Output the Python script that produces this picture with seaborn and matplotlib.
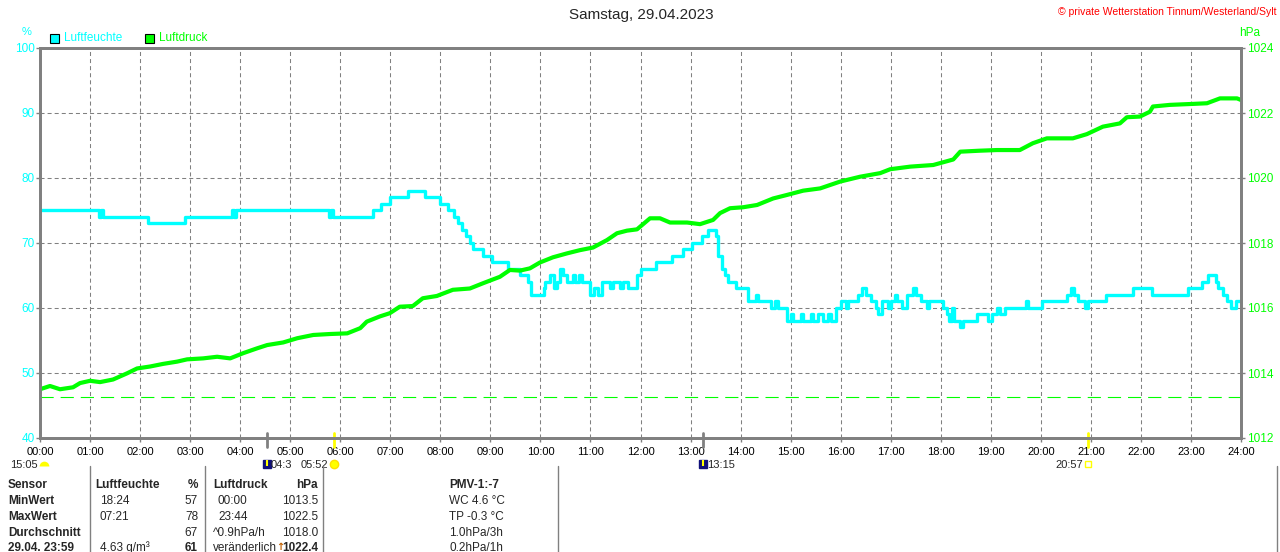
"""Tagesverlauf Luftfeuchte / Luftdruck, Samstag 29.04.2023."""

import matplotlib

matplotlib.use("Agg")
import matplotlib.pyplot as plt
import pandas as pd
import seaborn as sns
from matplotlib.patches import Rectangle

W, H = 1280, 552
CYAN = "#00FFFF"
GREEN = "#00FF00"
GREY = "#808080"
YELLOW = "#FFFF00"
NAVY = "#10107A"

# Luftfeuchte (%), Stufenverlauf: Zeitpunkt in Stunden, Wert ab diesem Zeitpunkt
hum_time = [
    0.00, 1.18, 1.22, 1.26, 2.16, 2.90, 3.84, 3.88, 3.92, 5.78, 5.82, 5.86,
    6.65, 6.81, 6.99, 7.35, 7.70, 8.00, 8.15, 8.28, 8.36, 8.44, 8.52, 8.60,
    8.66, 8.85, 9.03, 9.35, 9.59, 9.75, 9.82, 10.07, 10.10, 10.20, 10.27,
    10.33, 10.40, 10.46, 10.53, 10.65, 10.70, 10.78, 10.83, 11.00, 11.08,
    11.15, 11.23, 11.40, 11.45, 11.60, 11.65, 11.75, 11.93, 12.00, 12.30,
    12.63, 12.85, 13.03, 13.23, 13.35, 13.50, 13.55, 13.62, 13.68, 13.75,
    13.90, 14.15, 14.30, 14.35, 14.60, 14.68, 14.75, 14.93, 15.00, 15.05,
    15.20, 15.25, 15.40, 15.45, 15.55, 15.65, 15.75, 15.80, 15.90, 16.00,
    16.10, 16.15, 16.35, 16.43, 16.50, 16.60, 16.70, 16.75, 16.82, 16.95,
    17.00, 17.08, 17.12, 17.22, 17.33, 17.45, 17.50, 17.60, 17.72, 17.76,
    18.05, 18.12, 18.17, 18.23, 18.27, 18.38, 18.45, 18.72, 18.95, 19.03,
    19.13, 19.18, 19.28, 19.70, 19.74, 20.03, 20.52, 20.60, 20.67, 20.75,
    20.88, 20.95, 21.30, 21.85, 22.22, 22.95, 23.23, 23.35, 23.50, 23.55,
    23.65, 23.72, 23.80, 23.90, 24.00,
]
hum_value = [
    75, 74, 75, 74, 73, 74, 75, 74, 75, 74, 75, 74,
    75, 76, 77, 78, 77, 76, 75, 74, 73, 72, 71, 70,
    69, 68, 67, 66, 65, 64, 62, 63, 64, 65, 63,
    64, 66, 65, 64, 65, 64, 65, 64, 62, 63,
    62, 64, 63, 64, 63, 64, 63, 65, 66, 67,
    68, 69, 70, 71, 72, 71, 68, 66, 65, 64,
    63, 61, 62, 61, 60, 61, 60, 58, 59, 58,
    59, 58, 59, 58, 59, 58, 59, 58, 60, 61,
    60, 61, 62, 63, 62, 61, 60, 59, 61, 60,
    61, 62, 61, 60, 62, 63, 62, 61, 60, 61,
    60, 59, 58, 60, 58, 57, 58, 59, 58, 59,
    60, 59, 60, 61, 60, 61, 62, 63, 62, 61,
    60, 61, 62, 63, 62, 63, 64, 65, 64, 63,
    62, 61, 60, 61, 61,
]

# Luftdruck (hPa)
press_time = [
    0.00, 0.20, 0.40, 0.66, 0.80, 1.00, 1.20, 1.46, 1.74, 1.94, 2.20, 2.46,
    2.74, 2.94, 3.26, 3.54, 3.80, 4.06, 4.34, 4.54, 4.86, 5.14, 5.46, 5.80,
    6.14, 6.40, 6.53, 6.79, 6.99, 7.19, 7.45, 7.65, 7.93, 8.25, 8.59, 8.85,
    9.19, 9.39, 9.59, 9.79, 9.99, 10.25, 10.53, 10.79, 11.05, 11.33, 11.53,
    11.73, 11.93, 12.19, 12.39, 12.59, 12.93, 13.19, 13.45, 13.59, 13.79,
    14.05, 14.33, 14.65, 14.93, 15.25, 15.59, 15.99, 16.39, 16.79, 16.99,
    17.39, 17.85, 18.25, 18.39, 18.78, 19.12, 19.58, 19.84, 20.12, 20.64,
    20.92, 21.24, 21.58, 21.72, 21.98, 22.18, 22.24, 22.58, 23.04, 23.32,
    23.58, 23.92, 24.00,
]
press_value = [
    1013.50, 1013.60, 1013.50, 1013.56, 1013.69, 1013.76, 1013.72, 1013.80,
    1013.99, 1014.14, 1014.20, 1014.28, 1014.35, 1014.42, 1014.45, 1014.50,
    1014.45, 1014.61, 1014.76, 1014.86, 1014.94, 1015.07, 1015.17, 1015.20,
    1015.22, 1015.38, 1015.58, 1015.74, 1015.84, 1016.04, 1016.06, 1016.30,
    1016.37, 1016.56, 1016.60, 1016.76, 1016.96, 1017.17, 1017.15, 1017.22,
    1017.40, 1017.56, 1017.68, 1017.78, 1017.86, 1018.09, 1018.30, 1018.38,
    1018.42, 1018.76, 1018.76, 1018.63, 1018.63, 1018.58, 1018.71, 1018.92,
    1019.07, 1019.10, 1019.17, 1019.37, 1019.48, 1019.61, 1019.68, 1019.89,
    1020.04, 1020.15, 1020.27, 1020.35, 1020.40, 1020.57, 1020.81, 1020.84,
    1020.86, 1020.86, 1021.07, 1021.22, 1021.22, 1021.35, 1021.58, 1021.68,
    1021.87, 1021.89, 1022.04, 1022.20, 1022.25, 1022.28, 1022.30, 1022.45,
    1022.45, 1022.40,
]
ref_pressure = 1013.25

hour_labels = [f"{h:02d}:00" for h in range(25)]
hum_ticks = [40, 50, 60, 70, 80, 90, 100]
press_ticks = [1012, 1014, 1016, 1018, 1020, 1022, 1024]

# Sonne / Mond: Zeitpunkt in Stunden, Beschriftung
moon_times = [4 + 32 / 60, 13 + 15 / 60]
moon_labels = ["04:3", "13:15"]
sun_times = [5 + 52 / 60, 20 + 57 / 60]
sun_labels = ["05:52", "20:57"]

# Tabelle unten
table_rows = ["Sensor", "MinWert", "MaxWert", "Durchschnitt", "29.04. 23:59"]
hum_col_time = ["Luftfeuchte", "18:24", "07:21", "", "4.63 g/m³"]
hum_col_val = ["%", "57", "78", "67", "61"]
press_col_time = ["Luftdruck", "00:00", "23:44", "^0.9hPa/h", "veränderlich"]
press_col_val = ["hPa", "1013.5", "1022.5", "1018.0", "1022.4"]
extra_col = ["PMV-1:-7", "WC 4.6 °C", "TP -0.3 °C", "1.0hPa/3h", "0.2hPa/1h"]


def fx(x):
    return x / W


def fy(y):
    return 1 - y / H


sns.set_theme(style="white")
plt.rcParams["font.family"] = ["Liberation Sans", "DejaVu Sans"]
plt.rcParams["lines.scale_dashes"] = False

fig = plt.figure(figsize=(W / 100, H / 100), dpi=100)
ax = fig.add_axes([fx(40), fy(438), 1201 / W, 390 / H])

hum = pd.DataFrame({"hour": hum_time, "value": hum_value})
press = pd.DataFrame({"hour": press_time, "value": press_value})

sns.lineplot(data=hum, x="hour", y="value", ax=ax, color=CYAN, lw=2.4,
             estimator=None, drawstyle="steps-post")
ax.set_xlim(0, 24)
ax.set_ylim(40, 100)
ax.set_xticks(range(25))
ax.set_xticklabels(hour_labels)
ax.set_yticks(hum_ticks)
ax.set_xlabel("")
ax.set_ylabel("")
ax.grid(True, color=GREY, linestyle=(0, (2.9, 2.2)), lw=0.75)
ax.set_axisbelow(True)
ax.tick_params(axis="x", bottom=True, color=GREY, length=3, width=1,
               labelsize=8, labelcolor="black", pad=3.5)
ax.tick_params(axis="y", left=True, color=GREY, length=3, width=1,
               labelsize=8.5, labelcolor=CYAN, pad=1)

ax2 = ax.twinx()
sns.lineplot(data=press, x="hour", y="value", ax=ax2, color=GREEN, lw=3,
             estimator=None)
ax2.axhline(ref_pressure, color=GREEN, lw=0.8, dashes=(9.5, 5))
ax2.set_ylim(1012, 1024)
ax2.set_xlim(0, 24)
ax2.set_yticks(press_ticks)
ax2.set_ylabel("")
ax2.tick_params(axis="y", right=True, color=GREY, length=3, width=1,
                labelsize=8.5, labelcolor=GREEN, pad=1)
for a in (ax, ax2):
    for sp in a.spines.values():
        sp.set_color(GREY)
        sp.set_linewidth(2)

# Sonnen- und Mondzeiten an der Zeitachse
xt = ax.get_xaxis_transform()
for t, lab in zip(moon_times, moon_labels):
    ax.plot([t, t], [0.013, -0.023], color=GREY, lw=2, transform=xt,
            clip_on=False)
    ax.plot([t], [-0.067], marker="s", ms=6, color=NAVY, transform=xt,
            clip_on=False)
    ax.plot([t], [-0.065], marker="|", ms=4, mew=1.5, color=YELLOW,
            transform=xt, clip_on=False)
    ax.annotate(lab, xy=(t, 0), xycoords=("data", "axes fraction"),
                xytext=(4, -27), textcoords="offset pixels",
                ha="left", va="center", fontsize=8)
for t, lab in zip(sun_times, sun_labels):
    ax.plot([t, t], [0.013, -0.023], color=YELLOW, lw=2, transform=xt,
            clip_on=False)
    ax.annotate(lab, xy=(t, 0), xycoords=("data", "axes fraction"),
                xytext=(-5, -27), textcoords="offset pixels",
                ha="right", va="center", fontsize=8)
ax.plot([sun_times[0]], [-0.067], marker="o", ms=6, color=YELLOW,
        mec="#FFE000", transform=xt, clip_on=False)
ax.plot([sun_times[1]], [-0.067], marker="s", ms=4, mfc="none", mec=YELLOW,
        mew=1, transform=xt, clip_on=False)

fig.text(fx(38), fy(465), "15:05", ha="right", va="center", fontsize=8)
ax.plot([0.07], [-0.072], marker="o", ms=7, mfc=YELLOW, mec="none",
        fillstyle="top", markerfacecoloralt="none", transform=xt,
        clip_on=False)

# Kopfzeile
fig.text(fx(641), fy(15), "Samstag, 29.04.2023", ha="center", va="center",
         fontsize=11)
fig.text(fx(1277), fy(12), "© private Wetterstation Tinnum/Westerland/Sylt",
         ha="right", va="center", fontsize=7.5, color="red")
fig.text(fx(27), fy(32), "%", ha="center", va="center", fontsize=8, color=CYAN)
fig.text(fx(1250), fy(33), "hPa", ha="center", va="center", fontsize=8.5,
         color=GREEN)
for x0, col, lab in [(50, CYAN, "Luftfeuchte"), (145, GREEN, "Luftdruck")]:
    fig.add_artist(Rectangle((fx(x0), fy(43)), 9 / W, 9 / H,
                             transform=fig.transFigure, facecolor=col,
                             edgecolor="black", lw=0.8))
    fig.text(fx(x0 + 14), fy(38), lab, ha="left", va="center", fontsize=8.5,
             color=col)

# Tabelle
row_y = [485, 501, 517, 533, 548]
for i, y in enumerate(row_y):
    head = i == 0
    fig.text(fx(8), fy(y), table_rows[i], ha="left", va="center", fontsize=8.5,
             weight="bold")
    fig.text(fx(95 if head else 100), fy(y), hum_col_time[i], ha="left",
             va="center", fontsize=8.5, weight="bold" if head else "normal")
    fig.text(fx(198), fy(y), hum_col_val[i], ha="right", va="center",
             fontsize=8.5, weight="bold" if head or i == 4 else "normal")
    fig.text(fx(213 if head or i >= 3 else 218), fy(y), press_col_time[i],
             ha="left", va="center", fontsize=8.5,
             weight="bold" if head else "normal")
    fig.text(fx(318), fy(y), press_col_val[i], ha="right", va="center",
             fontsize=8.5, weight="bold" if head or i == 4 else "normal")
    fig.text(fx(449), fy(y), extra_col[i], ha="left", va="center",
             fontsize=8.5, weight="bold" if head else "normal")
fig.text(fx(280), fy(547), "↑", ha="center", va="center", fontsize=7,
         color="#C06000", weight="bold", family=["DejaVu Sans"])
for x in [90, 205, 323, 558, 1277]:
    fig.add_artist(plt.Line2D([fx(x), fx(x)], [fy(466), fy(552)],
                              transform=fig.transFigure, color=GREY, lw=1))

fig.savefig("out.png", dpi=100)
